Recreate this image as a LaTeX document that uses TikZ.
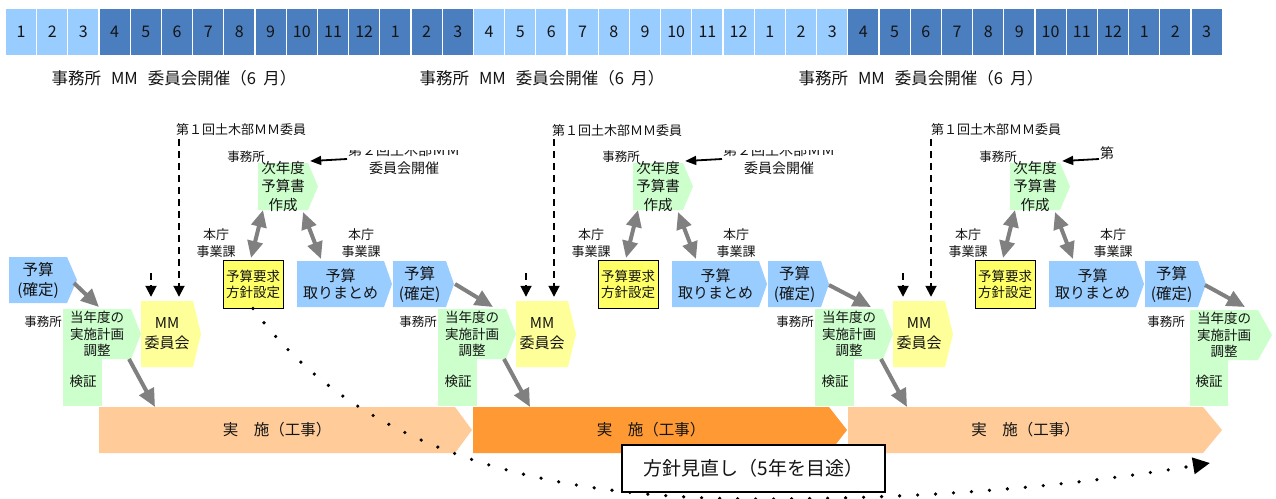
\documentclass[tikz,border=0pt]{standalone}
\usepackage{fontspec}
\setmainfont{Noto Sans CJK JP}
\usetikzlibrary{arrows.meta}
\definecolor{lblue}{HTML}{99CCFF}
\definecolor{dblue}{HTML}{4A7EBF}
\definecolor{gr}{HTML}{CCFFCC}
\definecolor{yl}{HTML}{FFFF99}
\definecolor{ys}{HTML}{FFFF66}
\definecolor{lo}{HTML}{FFCC99}
\definecolor{dor}{HTML}{FF9933}
\definecolor{ga}{HTML}{808080}
\definecolor{tx}{HTML}{141414}
\tikzset{
  txt/.style={inner sep=0pt, align=center, text=tx},
  fA/.style={font=\fontsize{13.5}{16.5}\selectfont},
  fS/.style={font=\fontsize{12.5}{15}\selectfont},
  fM/.style={font=\fontsize{15}{20}\selectfont},
  fY/.style={font=\fontsize{13.5}{16}\selectfont},
  fJ/.style={font=\fontsize{14.5}{18.5}\selectfont},
  fH/.style={font=\fontsize{13}{17}\selectfont},
  fT/.style={font=\fontsize{15}{17}\selectfont},
  fK/.style={font=\fontsize{15.5}{20}\selectfont},
  fD/.style={font=\fontsize{13}{15}\selectfont},
  fE/.style={font=\fontsize{14}{18}\selectfont},
  fB/.style={font=\fontsize{15.5}{18}\selectfont},
  fR/.style={font=\fontsize{19}{20}\selectfont},
  fG/.style={font=\fontsize{16.5}{17}\selectfont},
  cell/.style={minimum width=30pt, minimum height=46pt, inner sep=0pt, font=\fontsize{16}{16}\selectfont, text=tx},
  garrow/.style={draw=ga, line width=4pt, -{Triangle[length=18pt,width=16pt]}},
  gdarrow/.style={draw=ga, line width=4pt, {Triangle[length=17pt,width=15pt]}-{Triangle[length=17pt,width=15pt]}},
  darrow/.style={draw=black, line width=1.8pt, dash pattern=on 7pt off 5pt, shorten >=4pt, -{Triangle[length=11pt,width=11pt]}},
  barrow/.style={draw=black, line width=1.8pt, -{Triangle[length=11pt,width=9pt]}},
  dotcurve/.style={draw=black, line width=3.6pt, line cap=round, dash pattern=on 0pt off 18pt, -{Triangle[length=17pt,width=16pt]}},
}
% name, L, T, R, X, B, fill, font style, text
\newcommand\pent[9]{%
  \fill[#7] (#2,#3) -- (#4,#3) -- (#5,{(#3+#6)/2}) -- (#4,#6) -- (#2,#6) -- cycle;
  \node[txt,#8,minimum width={((#4)-(#2))*1pt},minimum height={((#6)-(#3))*1pt}] (#1) at ({((#2)+(#4))/2},{(#3+#6)/2}) {#9};
}
\newcommand\headtext{事務所\hspace{0.6em}MM\hspace{0.6em}委員会開催（6\hspace{0.45em}月）}
\begin{document}
\begin{tikzpicture}[x=1pt,y=-1pt]
\useasboundingbox (0,0) rectangle (1276,498);
\fill[white] (0,0) rectangle (1276,498);

% month bar
\foreach \i in {0,...,38}{
  \pgfmathtruncatemacro\mon{mod(\i,12)+1}
  \pgfmathtruncatemacro\blk{ifthenelse(\i<3,0,ifthenelse(\i<15,1,ifthenelse(\i<27,0,1)))}
  \ifnum\blk=1 \def\cc{dblue}\else\def\cc{lblue}\fi
  \node[cell,fill=\cc] (m\i) at ({21+\i*31.2},32) {\mon};
}

% headings
\node[txt,fG] (h1) at (174,78) {\headtext};
\node[txt,fG] (h2) at (542,78) {\headtext};
\node[txt,fG] (h3) at (921,78) {\headtext};

% implementation bars
\pent{br1}{99}{407}{455}{472}{453}{lo}{fB}{実　施（工事）}
\pent{br2}{473}{407}{829}{847}{453}{dor}{fB}{実　施（工事）}
\pent{br3}{848}{407}{1203}{1222}{453}{lo}{fB}{実　施（工事）}

% initial budget
\pent{yk0}{9}{257}{67}{77}{303}{lblue}{fK}{予算\\(確定)}

\foreach \i/\dx in {1/0,2/375,3/752}{
  \fill[gr] (63+\dx,359) rectangle (102+\dx,406);
  \node[txt,fA] (kz\i) at (83+\dx,381) {検証};
  \pent{tn\i}{63+\dx}{309}{131+\dx}{141+\dx}{359}{gr}{fA}{当年度の\\実施計画\\調整}
  \node[txt,fS] (jm\i) at (43+\dx,322) {事務所};
  \pent{mm\i}{141+\dx}{301}{193+\dx}{201+\dx}{367}{yl}{fM}{MM\\委員会}
  \coordinate (ds\i) at (151+\dx,273);
  \coordinate (dl\i) at (179+\dx,139);
  \draw[darrow] (ds\i) -- (ds\i |- mm\i.north);
  \draw[darrow] (dl\i) -- (dl\i |- mm\i.north);
  \node[draw=black,line width=1pt,fill=ys,minimum width=60pt,minimum height=48pt,txt,fY] (yq\i) at (253+\dx,284) {予算要求\\方針設定};
  \pent{jn\i}{258+\dx}{163}{308+\dx}{318+\dx}{210}{gr}{fJ}{次年度\\予算書\\作成}
  \node[txt,fS] (jo\i) at (246+\dx,157) {事務所};
  \coordinate (ba\i) at (347+\dx,159);
  \draw[barrow] (ba\i) -- ([xshift=2pt]jn\i.north east);
  \node[txt,fH] (hl\i) at (216+\dx,243) {本庁\\事業課};
  \node[txt,fH] (hr\i) at (361+\dx,243) {本庁\\事業課};
  \pent{tm\i}{297+\dx}{261}{384+\dx}{392+\dx}{307}{lblue}{fT}{予算\\取りまとめ}
  \pent{yk\i}{393+\dx}{261}{446+\dx}{454+\dx}{307}{lblue}{fK}{予算\\(確定)}
  \coordinate (da\i) at (263+\dx,210);
  \coordinate (dbb\i) at (251+\dx,258);
  \coordinate (dc\i) at (303+\dx,212);
  \coordinate (dd\i) at (321+\dx,259);
  \draw[gdarrow] (da\i) -- (dbb\i);
  \draw[gdarrow] (dc\i) -- (dd\i);
  \coordinate (gs\i) at (129+\dx,359);
  \coordinate (ge\i) at (155+\dx,407);
  \draw[garrow] (gs\i) -- (ge\i);
}

% fourth (partial) cycle
\fill[gr] (1190,360) rectangle (1228,406);
\node[txt,fA] (kz4) at (1209,381) {検証};
\pent{tn4}{1190}{310}{1258}{1272}{360}{gr}{fA}{当年度の\\実施計画\\調整}
\node[txt,fS] (jm4) at (1166,322) {事務所};

% budget -> current year plan arrows
\coordinate (ya0) at (74,283);  \coordinate (yb1) at (99,307);
\draw[garrow] (ya0) -- (yb1);
\coordinate (ya1) at (455,284); \coordinate (yb2) at (493,307);
\draw[garrow] (ya1) -- (yb2);
\coordinate (ya2) at (829,285); \coordinate (yb3) at (871,307);
\draw[garrow] (ya2) -- (yb3);
\coordinate (ya3) at (1205,285); \coordinate (yb4) at (1245,307);
\draw[garrow] (ya3) -- (yb4);

% first committee labels
\node[txt,fD] (f11) at (241,130) {第１回土木部ＭＭ委員};
\node[txt,fD] (f12) at (617,131) {第１回土木部ＭＭ委員};
\begin{scope}
  \clip (880,115) rectangle (1062,145);
  \node[txt,fD] (f13) at (996,130) {第１回土木部ＭＭ委員};
\end{scope}

% second committee labels
\begin{scope}
  \clip (330,150) rectangle (480,162);
  \node[txt,fE] (s11) at (404,150) {第２回土木部ＭＭ};
\end{scope}
\node[txt,fE] (s12) at (404,168) {委員会開催};
\begin{scope}
  \clip (705,150) rectangle (855,162);
  \node[txt,fE] (s21) at (779,150) {第２回土木部ＭＭ};
\end{scope}
\node[txt,fE] (s22) at (779,168) {委員会開催};
\node[txt,fE] (s31) at (1107,153) {第};

% review curve
\coordinate (rv) at (1210,463);
\draw[dotcurve] (yq1.south) .. controls (363,458) and (560,499) .. (760,499)
   .. controls (910,499) and (1058,488.5) .. (rv);

% review box
\node[draw=black,line width=1.3pt,fill=white,minimum width=263pt,minimum height=47pt,txt,fR] (fs) at (753.5,468.5) {方針見直し（5年を目途）};
\end{tikzpicture}
\end{document}
